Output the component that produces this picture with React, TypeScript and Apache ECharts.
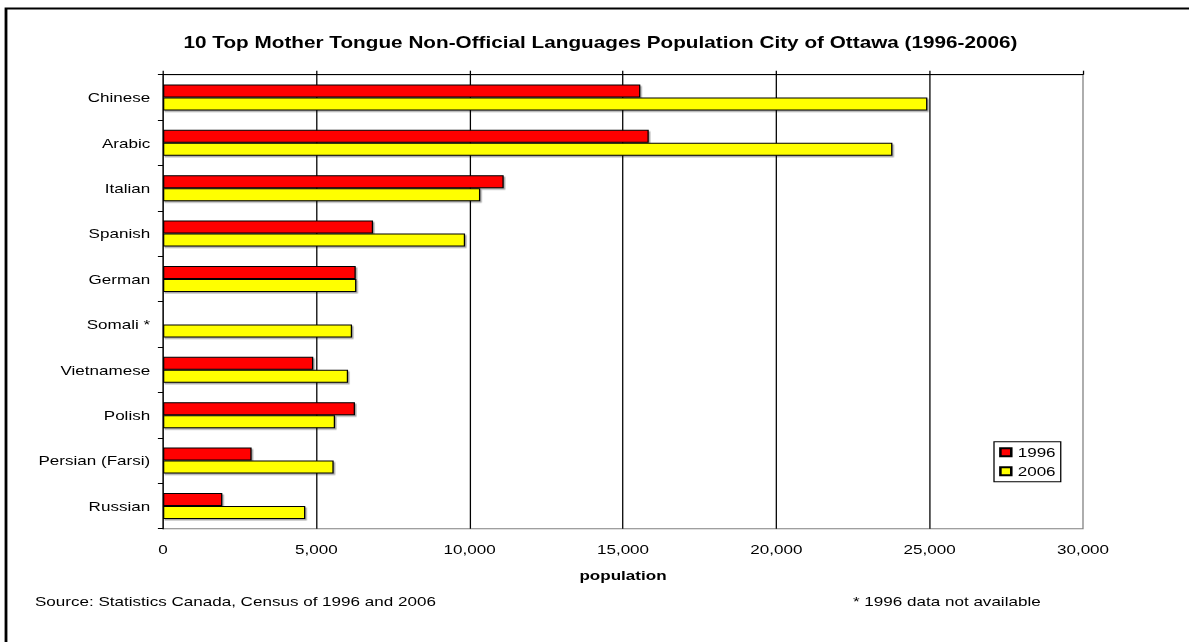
import React, { useEffect, useRef } from "react";
import * as echarts from "echarts";

// ---- data ----
const categories = [
  "Chinese",
  "Arabic",
  "Italian",
  "Spanish",
  "German",
  "Somali *",
  "Vietnamese",
  "Polish",
  "Persian (Farsi)",
  "Russian",
];
const values1996: (number | null)[] = [15565, 15840, 11110, 6850, 6285, null, 4900, 6260, 2890, 1935];
const values2006: number[] = [24925, 23785, 10345, 9850, 6305, 6165, 6035, 5610, 5565, 4640];
const seriesNames = ["1996", "2006"];
const seriesColors = ["#FF0000", "#FFFF00"];
const titleText = "10 Top Mother Tongue Non-Official Languages Population City of Ottawa (1996-2006)";
const axisName = "population";
const sourceText = "Source: Statistics Canada, Census of 1996 and 2006";
const noteText = "* 1996 data not available";
const xMin = 0;
const xMax = 30000;
const xStep = 5000;

// the original picture is stretched horizontally
const SX = 1.28;
const W = 1189 / SX;
const H = 642;
const FONT = "Arial, 'Liberation Sans', sans-serif";
const FS = 13.33;

export default function App() {
  const ref = useRef<HTMLDivElement>(null);
  useEffect(() => {
    if (!ref.current) return;
    const chart = echarts.init(ref.current, null, { renderer: "svg", width: W, height: H });
    const barStyle = (c: string) => ({
      color: c,
      borderColor: "#000",
      borderWidth: 1,
      shadowColor: "rgba(0,0,0,0.35)",
      shadowOffsetX: 1.2,
      shadowOffsetY: 1.5,
      shadowBlur: 1,
    });
    chart.setOption({
      animation: false,
      backgroundColor: "#fff",
      textStyle: { fontFamily: FONT, color: "#000" },
      grid: {
        left: 163 / SX,
        right: W - 1083 / SX,
        top: 74.7,
        bottom: H - 528.7,
        show: true,
        borderColor: "#808080",
        borderWidth: 1,
        backgroundColor: "transparent",
        containLabel: false,
      },
      legend: {
        orient: "vertical",
        left: 994 / SX,
        top: 441.7,
        padding: [4, 4, 4, 4],
        itemGap: 6,
        itemWidth: 8.5,
        itemHeight: 8,
        borderColor: "#000",
        borderWidth: 1,
        borderRadius: 0,
        backgroundColor: "#fff",
        textStyle: { fontFamily: FONT, fontSize: FS, color: "#000" },
        itemStyle: { shadowBlur: 0, shadowOffsetX: 0, shadowOffsetY: 0, shadowColor: "transparent" },
        data: seriesNames.map((n) => ({ name: n, icon: "rect" })),
      },
      xAxis: [
        {
          type: "value",
          position: "bottom",
          min: xMin,
          max: xMax,
          interval: xStep,
          axisLine: { show: false },
          axisTick: { show: false },
          axisLabel: {
            color: "#000",
            fontFamily: FONT,
            fontSize: FS,
            margin: 14,
            formatter: (v: number) => v.toLocaleString("en-US"),
          },
          splitLine: {
            show: true,
            showMinLine: false,
            showMaxLine: false,
            lineStyle: { color: "#000", width: 1 },
          },
          name: axisName,
          nameLocation: "middle",
          nameGap: 40,
          nameTextStyle: { fontFamily: FONT, fontSize: FS, fontWeight: "bold", color: "#000" },
        },
        {
          type: "value",
          position: "top",
          min: xMin,
          max: xMax,
          interval: xStep,
          axisLine: { show: true, lineStyle: { color: "#000", width: 1 } },
          axisTick: { show: true, length: 4, lineStyle: { color: "#000" } },
          axisLabel: { show: false },
          splitLine: { show: false },
        },
      ],
      yAxis: {
        type: "category",
        data: categories,
        inverse: true,
        axisLine: { show: true, lineStyle: { color: "#000", width: 1 } },
        axisTick: { show: true, length: 4, alignWithLabel: false, lineStyle: { color: "#000" } },
        axisLabel: { color: "#000", fontFamily: FONT, fontSize: FS, margin: 10 },
        splitLine: { show: false },
      },
      series: [
        {
          name: seriesNames[0],
          type: "bar",
          xAxisIndex: 0,
          data: values1996,
          barWidth: 13,
          barGap: "0%",
          itemStyle: barStyle(seriesColors[0]),
        },
        {
          name: seriesNames[1],
          type: "bar",
          xAxisIndex: 0,
          data: values2006,
          barWidth: 13,
          barGap: "0%",
          itemStyle: barStyle(seriesColors[1]),
        },
      ],
      graphic: [
        {
          type: "rect",
          silent: true,
          shape: { x: 6 / SX, y: 8.5, width: 3000, height: 3000 },
          style: { fill: "none", stroke: "#000", lineWidth: 2.2 },
          z: 100,
        },
        {
          type: "text",
          x: 600.5 / SX,
          y: 42.7,
          style: {
            text: titleText,
            fontFamily: FONT,
            fontSize: 16.2,
            fontWeight: "bold",
            fill: "#000",
            textAlign: "center",
            textVerticalAlign: "middle",
          },
        },
        {
          type: "text",
          x: 35 / SX,
          y: 601,
          style: {
            text: sourceText,
            fontFamily: FONT,
            fontSize: FS,
            fill: "#000",
            textAlign: "left",
            textVerticalAlign: "middle",
          },
        },
        {
          type: "text",
          x: 853 / SX,
          y: 601,
          style: {
            text: noteText,
            fontFamily: FONT,
            fontSize: FS,
            fill: "#000",
            textAlign: "left",
            textVerticalAlign: "middle",
          },
        },
      ],
    });
    return () => chart.dispose();
  }, []);
  return (
    <div
      style={{
        position: "fixed",
        left: 0,
        top: 0,
        width: 1189,
        height: 642,
        overflow: "hidden",
        background: "#fff",
      }}
    >
      <div
        ref={ref}
        style={{ width: W, height: H, transform: `scaleX(${SX})`, transformOrigin: "0 0" }}
      />
    </div>
  );
}
